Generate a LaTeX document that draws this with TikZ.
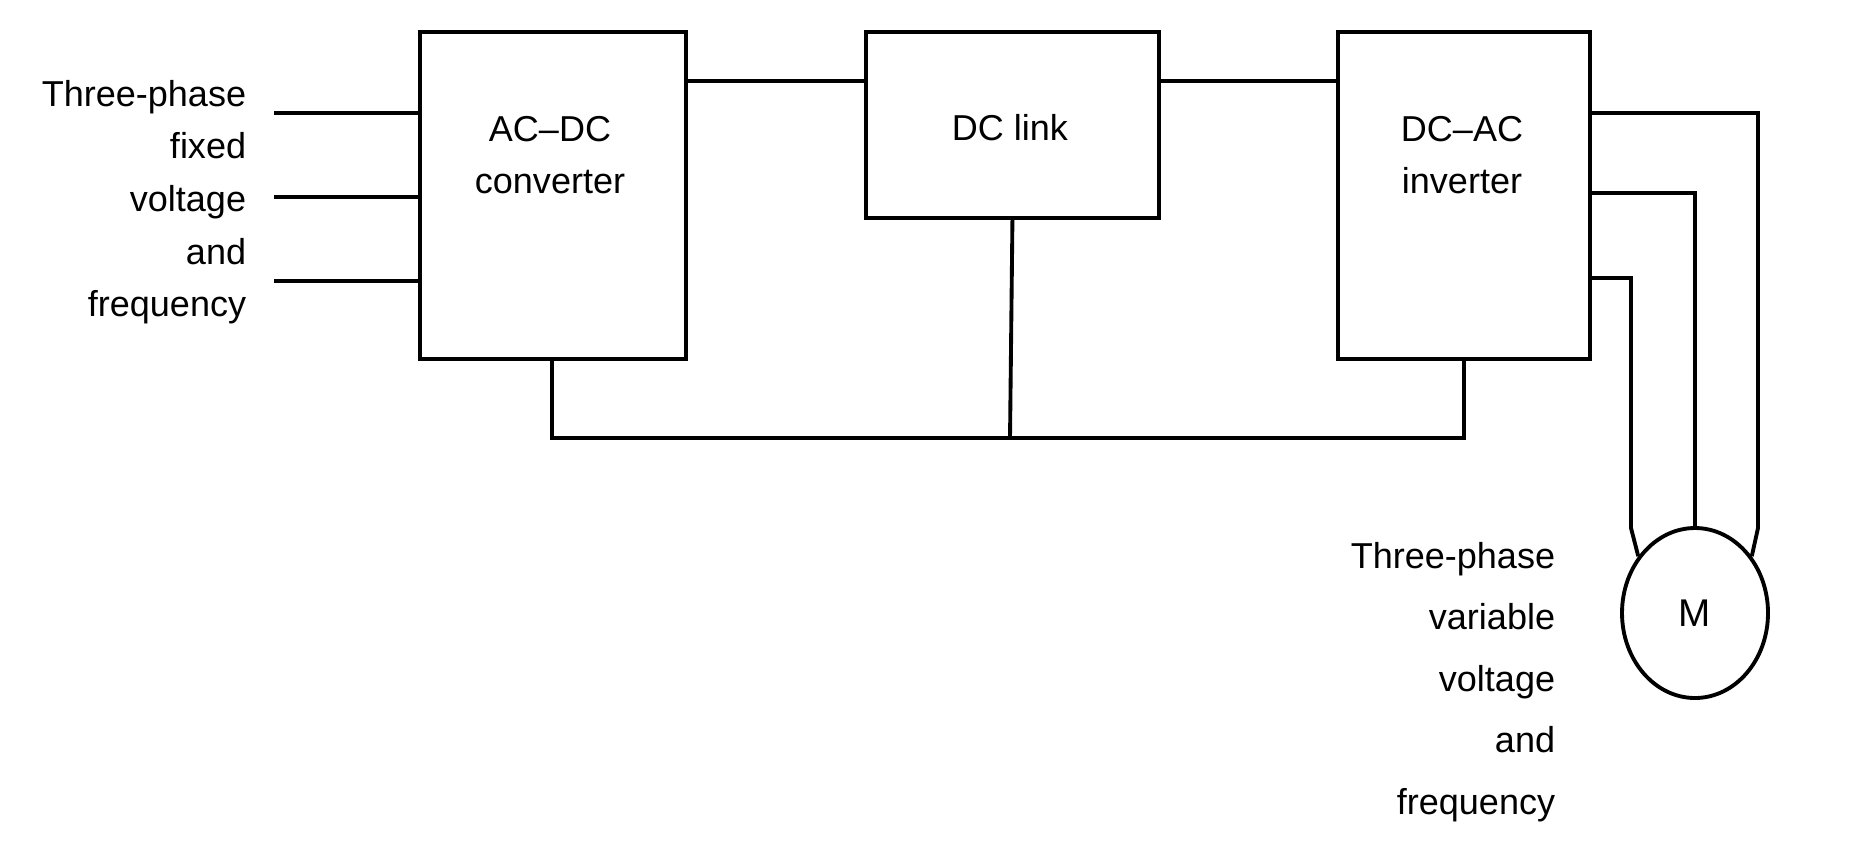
\documentclass[tikz,border=0pt]{standalone}
\usepackage{fontspec}
\setmainfont{Liberation Sans}
\usetikzlibrary{positioning,shapes.geometric}

\begin{document}
\begin{tikzpicture}[x=0.02cm,y=-0.02cm,line width=2.2pt,
    block/.style={draw,rectangle,inner sep=0pt},
    lbl/.style={font=\fontsize{20.5}{30}\selectfont,align=center,inner sep=0pt}]

  \useasboundingbox (0,0) rectangle (1852,840);

  % ---- Blocks ----
  \node[block,minimum width=266*0.02cm,minimum height=327*0.02cm,anchor=north west] (conv) at (418,30) {};
  \node[block,minimum width=293*0.02cm,minimum height=186*0.02cm,anchor=north west] (link) at (864,30) {};
  \node[block,minimum width=252*0.02cm,minimum height=327*0.02cm,anchor=north west] (inv) at (1336,30) {};
  \node[draw,ellipse,minimum width=146*0.02cm,minimum height=170*0.02cm,inner sep=0pt,
        font=\fontsize{22}{26}\selectfont] (mot) at (1695,613) {M};

  \node[lbl] (convt) at (550,155) {AC--DC\\converter};
  \node[lbl] (linkt) at (1010,128) {DC link};
  \node[lbl] (invt) at (1462,155) {DC--AC\\inverter};

  % ---- Supply and load texts ----
  \node[lbl,align=right,anchor=north east] (supply) at (248,78)
    {Three-phase\\fixed\\voltage\\and\\frequency};
  \node[lbl,align=right,anchor=north east,font=\fontsize{20.5}{35}\selectfont] (load) at (1557,540)
    {Three-phase\\variable\\voltage\\and\\frequency};

  % ---- Input lines ----
  \foreach \y in {113,197,281}
    \draw (274,\y) -- (418,\y);

  % ---- DC connections ----
  \draw (684,81) -- (864,81);
  \draw (1157,81) -- (1336,81);
  \draw (552,357) |- (1464,438) -- (1464,357);
  \draw (link.south) -- (1010,438);

  % ---- Output lines to motor ----
  \draw (1588,113) -- (1758,113) -- (1758,528) -- (mot.45);
  \draw (1588,193) -- (1695,193) -- (mot.north);
  \draw (1588,278) -- (1631,278) -- (1631,528) -- (mot.135);
\end{tikzpicture}
\end{document}
